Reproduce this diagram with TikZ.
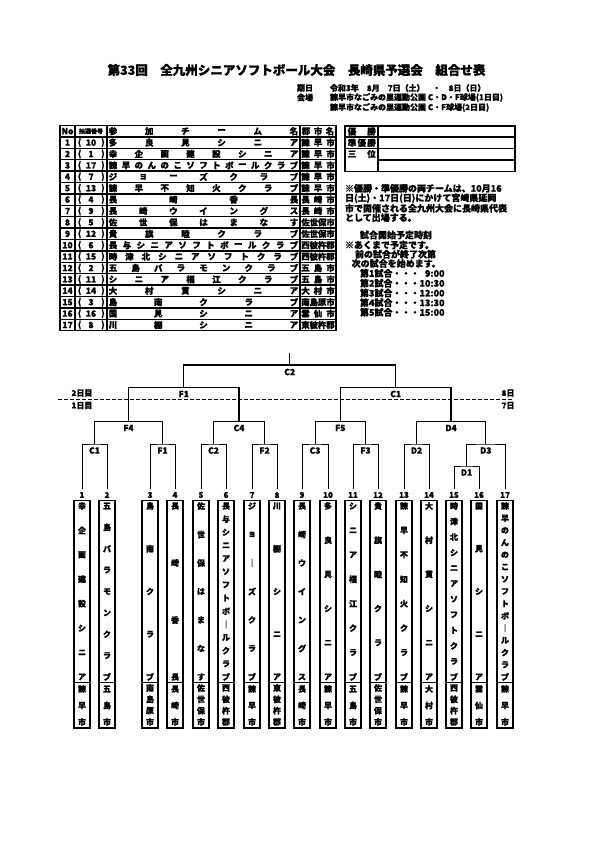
\documentclass[tikz,border=0pt]{standalone}
\usepackage{fontspec}
\newfontfamily\jp{Noto Sans CJK JP}[BoldFeatures={FakeBold=1.2}]
\newcommand\cntlist[1]{\gdef\nchars{0}\foreach \ch in {#1}{\pgfmathtruncatemacro\tmpn{\nchars+1}\global\let\nchars\tmpn}}
% horizontal spread: x1, x2, y, list, name
\newcommand\hspread[5]{\cntlist{#4}\foreach \ch [count=\ii] in {#4}{\node[tx] (#5-\ii) at ({#1+(\ii-1)*((#2)-(#1))/(\nchars-1)},#3) {\ch};}}
% vertical spread: x, y1, y2, list, name
\newcommand\vspread[5]{\cntlist{#4}\foreach \ch [count=\ii] in {#4}{\node[vx] (#5-\ii) at (#1,{#2+(\ii-1)*((#3)-(#2))/(\nchars-1)}) {\ch};}}
\newcommand\trow[4]{%
  \pgfmathsetmacro\yy{125.5+(#1+0.5)*11.4}%
  \node[tx] (no#1) at (67.5,\yy) {#1};
  \node[tx] (lpa#1) at (79.5,\yy) {(};
  \node[tx] (lot#1) at (91,\yy) {#2};
  \node[tx] (rpa#1) at (103,\yy) {)};
  \hspread{113}{294}{\yy}{#3}{tn#1}
  \hspread{305.5}{330.5}{\yy}{#4}{tc#1}
}
\begin{document}
\begin{tikzpicture}[x=1pt,y=-1pt,
  every node/.style={inner sep=0pt,outer sep=0pt},
  tx/.style={font=\jp\bfseries\fontsize{8.5}{8.5}\selectfont},
  vx/.style={font=\jp\bfseries\fontsize{8}{8}\selectfont},
  sm/.style={font=\jp\bfseries\fontsize{8}{8}\selectfont},
  nt/.style={font=\jp\bfseries\fontsize{9}{9}\selectfont,anchor=west},
  lb/.style={font=\jp\bfseries\fontsize{8.5}{8.5}\selectfont},
  num/.style={font=\jp\bfseries\fontsize{8}{8}\selectfont},
  tbl/.style={line width=1.3pt},
  tbox/.style={draw,line width=1.4pt,minimum width=16pt,minimum height=227.5pt},
  sepl/.style={line width=0.6pt},
  brA/.style={line width=1pt},
  brB/.style={line width=1.4pt}]
\useasboundingbox (0,0) rectangle (595,842);
\fill[white] (0,0) rectangle (595,842);

% ---------- title and header ----------
\node[font=\jp\bfseries\fontsize{12.5}{13}\selectfont] (title) at (296.5,70) {第33回　全九州シニアソフトボール大会　長崎県予選会　組合せ表};
\node[sm,anchor=west] (kijitsu) at (297,88) {期日};
\node[sm,anchor=west] (date) at (330,88) {令和3年　8月　7日（土）　・　8日（日）};
\node[sm,anchor=west] (kaijo) at (297,97.5) {会場};
\node[sm,anchor=west] (venue1) at (330,97.5) {諫早市なごみの里運動公園 C・D・F球場(1日目)};
\node[sm,anchor=west] (venue2) at (330,107.5) {諫早市なごみの里運動公園 C・F球場(2日目)};

% ---------- team table ----------
\draw[tbl] (60,125.5) rectangle (336,330.7);
\foreach \r in {1,...,17} {\draw[tbl] (60,{125.5+\r*11.4}) -- (336,{125.5+\r*11.4});}
\foreach \cx in {75,107,300} {\draw[tbl] (\cx,125.5) -- (\cx,330.7);}
\node[tx] (hno) at (67.5,131.2) {No};
\node[font=\jp\bfseries\fontsize{6}{6}\selectfont] (hlot) at (91,131.2) {抽選番号};
\hspread{113}{294}{131.2}{参,加,チ,ー,ム,名}{hteam}
\hspread{306}{330}{131.2}{郡,市,名}{hcity}
\trow{1}{10}{多,良,見,シ,ニ,ア}{諫,早,市}
\trow{2}{1}{幸,企,画,建,設,シ,ニ,ア}{諫,早,市}
\trow{3}{17}{諫,早,の,ん,の,こ,ソ,フ,ト,ボ,ー,ル,ク,ラ,ブ}{諫,早,市}
\trow{4}{7}{ジ,ョ,ー,ズ,ク,ラ,ブ}{諫,早,市}
\trow{5}{13}{諫,早,不,知,火,ク,ラ,ブ}{諫,早,市}
\trow{6}{4}{長,崎,香,長}{長,崎,市}
\trow{7}{9}{長,崎,ウ,イ,ン,グ,ス}{長,崎,市}
\trow{8}{5}{佐,世,保,は,ま,な,す}{佐,世,保,市}
\trow{9}{12}{貴,旗,睦,ク,ラ,ブ}{佐,世,保,市}
\trow{10}{6}{長,与,シ,ニ,ア,ソ,フ,ト,ボ,ー,ル,ク,ラ,ブ}{西,彼,杵,郡}
\trow{11}{15}{時,津,北,シ,ニ,ア,ソ,フ,ト,ク,ラ,ブ}{西,彼,杵,郡}
\trow{12}{2}{五,島,バ,ラ,モ,ン,ク,ラ,ブ}{五,島,市}
\trow{13}{11}{シ,ニ,ア,福,江,ク,ラ,ブ}{五,島,市}
\trow{14}{14}{大,村,貫,シ,ニ,ア}{大,村,市}
\trow{15}{3}{島,南,ク,ラ,ブ}{南,島,原,市}
\trow{16}{16}{国,見,シ,ニ,ア}{雲,仙,市}
\trow{17}{8}{川,棚,シ,ニ,ア}{東,彼,杵,郡}

% ---------- result box ----------
\draw[tbl] (345,126) rectangle (515,171.5);
\draw[tbl] (345,137) -- (515,137);
\draw[tbl] (345,148.5) -- (515,148.5);
\draw[tbl] (378,160) -- (515,160);
\draw[tbl] (378,126) -- (378,171.5);
\hspread{352}{371.5}{131.5}{優,勝}{rw}
\hspread{352}{371.5}{142.8}{準,優,勝}{rr}
\hspread{352}{371.5}{154}{三,位}{r3}

% ---------- notes ----------
\node[nt] (note1) at (345,188.3) {※優勝・準優勝の両チームは、10月16};
\node[nt] (note2) at (345,198.3) {日(土)・17日(日)にかけて宮崎県延岡};
\node[nt] (note3) at (345,208.3) {市で開催される全九州大会に長崎県代表};
\node[nt] (note4) at (345,217.7) {として出場する。};
\node[nt] (sch0) at (360,235) {試合開始予定時刻};
\node[nt] (sch1) at (345,245) {※あくまで予定です。};
\node[nt] (sch2) at (355,254.2) {前の試合が終了次第};
\node[nt] (sch3) at (351.7,263.5) {次の試合を始めます。};
\node[nt] (g1) at (360,273.3) {第1試合・・・\phantom{1}9:00};
\node[nt] (g2) at (360,283.2) {第2試合・・・10:30};
\node[nt] (g3) at (360,293) {第3試合・・・12:00};
\node[nt] (g4) at (360,302.7) {第4試合・・・13:30};
\node[nt] (g5) at (360,312.3) {第5試合・・・15:00};

% ---------- team columns ----------
\foreach \k/\xx in {1/82,2/107,3/150,4/175,5/201,6/226,7/252,8/277,9/302,10/328,11/353,12/378,13/404,14/429,15/454,16/479,17/505} {
  \coordinate (T\k) at (\xx,489);
  \node[num] (n\k) at (\xx,495) {\k};
  \node[tbox] (b\k) at (\xx,614.25) {};
  \draw[sepl] (b\k.west |- 0,682) -- (b\k.east |- 0,682);
}
\vspread{82}{506}{677}{幸,企,画,建,設,シ,ニ,ア}{v1}
\vspread{82}{689}{722}{諫,早,市}{c1}
\vspread{107}{506}{677}{五,島,バ,ラ,モ,ン,ク,ラ,ブ}{v2}
\vspread{107}{689}{722}{五,島,市}{c2}
\vspread{150}{506}{677}{島,南,ク,ラ,ブ}{v3}
\vspread{150}{688}{722}{南,島,原,市}{c3}
\vspread{175}{506}{677}{長,崎,香,長}{v4}
\vspread{175}{689}{722}{長,崎,市}{c4}
\vspread{201}{506}{677}{佐,世,保,は,ま,な,す}{v5}
\vspread{201}{688}{722}{佐,世,保,市}{c5}
\vspread{226}{506}{677}{長,与,シ,ニ,ア,ソ,フ,ト,ボ,｜,ル,ク,ラ,ブ}{v6}
\vspread{226}{688}{722}{西,彼,杵,郡}{c6}
\vspread{252}{506}{677}{ジ,ョ,｜,ズ,ク,ラ,ブ}{v7}
\vspread{252}{689}{722}{諫,早,市}{c7}
\vspread{277}{506}{677}{川,棚,シ,ニ,ア}{v8}
\vspread{277}{688}{722}{東,彼,杵,郡}{c8}
\vspread{302}{506}{677}{長,崎,ウ,イ,ン,グ,ス}{v9}
\vspread{302}{689}{722}{長,崎,市}{c9}
\vspread{328}{506}{677}{多,良,見,シ,ニ,ア}{v10}
\vspread{328}{689}{722}{諫,早,市}{c10}
\vspread{353}{506}{677}{シ,ニ,ア,福,江,ク,ラ,ブ}{v11}
\vspread{353}{689}{722}{五,島,市}{c11}
\vspread{378}{506}{677}{貴,旗,睦,ク,ラ,ブ}{v12}
\vspread{378}{688}{722}{佐,世,保,市}{c12}
\vspread{404}{506}{677}{諫,早,不,知,火,ク,ラ,ブ}{v13}
\vspread{404}{689}{722}{諫,早,市}{c13}
\vspread{429}{506}{677}{大,村,貫,シ,ニ,ア}{v14}
\vspread{429}{689}{722}{大,村,市}{c14}
\vspread{454}{506}{677}{時,津,北,シ,ニ,ア,ソ,フ,ト,ク,ラ,ブ}{v15}
\vspread{454}{688}{722}{西,彼,杵,郡}{c15}
\vspread{479}{506}{677}{国,見,シ,ニ,ア}{v16}
\vspread{479}{689}{722}{雲,仙,市}{c16}
\vspread{505}{506}{677}{諫,早,の,ん,の,こ,ソ,フ,ト,ボ,｜,ル,ク,ラ,ブ}{v17}
\vspread{505}{689}{722}{諫,早,市}{c17}

% ---------- bracket ----------
\coordinate (mC1) at (94.5,444);
\coordinate (mF1a) at (162.5,444);
\coordinate (mC2a) at (213.5,444);
\coordinate (mF2) at (264.5,444);
\coordinate (mC3) at (315,444);
\coordinate (mF3) at (365.5,444);
\coordinate (mD2) at (416.5,444);
\coordinate (mD1) at (466.5,466);
\coordinate (mD3) at (485.75,444);
\coordinate (mF4) at (128.5,421.7);
\coordinate (mC4) at (239,421.7);
\coordinate (mF5) at (340.25,421.7);
\coordinate (mD4) at (451.1,421.7);
\coordinate (mF1) at (183.75,387.7);
\coordinate (mC1s) at (395.7,387.7);
\coordinate (mC2) at (289.7,365);
\coordinate (champ) at (289.7,353);

\draw[brA] (T1) |- (mC1) -| (T2);
\draw[brA] (T3) |- (mF1a) -| (T4);
\draw[brA] (T5) |- (mC2a) -| (T6);
\draw[brA] (T7) |- (mF2) -| (T8);
\draw[brA] (T9) |- (mC3) -| (T10);
\draw[brA] (T11) |- (mF3) -| (T12);
\draw[brA] (T13) |- (mD2) -| (T14);
\draw[brA] (T15) |- (mD1) -| (T16);
\draw[brA] (mD1) |- (mD3) -| (T17);
\draw[brA] (mC1) |- (mF4) -| (mF1a);
\draw[brA] (mC2a) |- (mC4) -| (mF2);
\draw[brA] (mC3) |- (mF5) -| (mF3);
\draw[brA] (mD2) |- (mD4) -| (mD3);
\draw[brB] (mF4) |- (mF1) -| (mC4);
\draw[brB] (mF5) |- (mC1s) -| (mD4);
\draw[brB] (mF1) |- (mC2) -| (mC1s);
\draw[brB] (mC2) -- (champ);

\node[lb] (lC2) at (289.7,372) {C2};
\node[lb] (lF1) at (183.75,394) {F1};
\node[lb] (lC1s) at (395.7,394) {C1};
\node[lb] (lF4) at (128.5,428) {F4};
\node[lb] (lC4) at (239,428) {C4};
\node[lb] (lF5) at (340.25,428) {F5};
\node[lb] (lD4) at (451.1,428) {D4};
\node[lb] (lc1) at (94.5,450.5) {C1};
\node[lb] (lf1) at (162.5,450.5) {F1};
\node[lb] (lc2) at (213.5,450.5) {C2};
\node[lb] (lf2) at (264.5,450.5) {F2};
\node[lb] (lc3) at (315,450.5) {C3};
\node[lb] (lf3) at (365.5,450.5) {F3};
\node[lb] (ld2) at (416.5,450.5) {D2};
\node[lb] (ld3) at (485.75,450.5) {D3};
\node[lb] (ld1) at (466.5,472.5) {D1};

% ---------- day line ----------
\coordinate (dL) at (58,399.3);
\coordinate (dR) at (513,399.3);
\draw[line width=1.2pt,dash pattern=on 4pt off 2pt] (dL) -- (dR);
\node[sm] (d2) at (82,393) {2日目};
\node[sm] (d1) at (82,405.5) {1日目};
\node[sm] (d8) at (508,393) {8日};
\node[sm] (d7) at (508,405.5) {7日};
\end{tikzpicture}
\end{document}
